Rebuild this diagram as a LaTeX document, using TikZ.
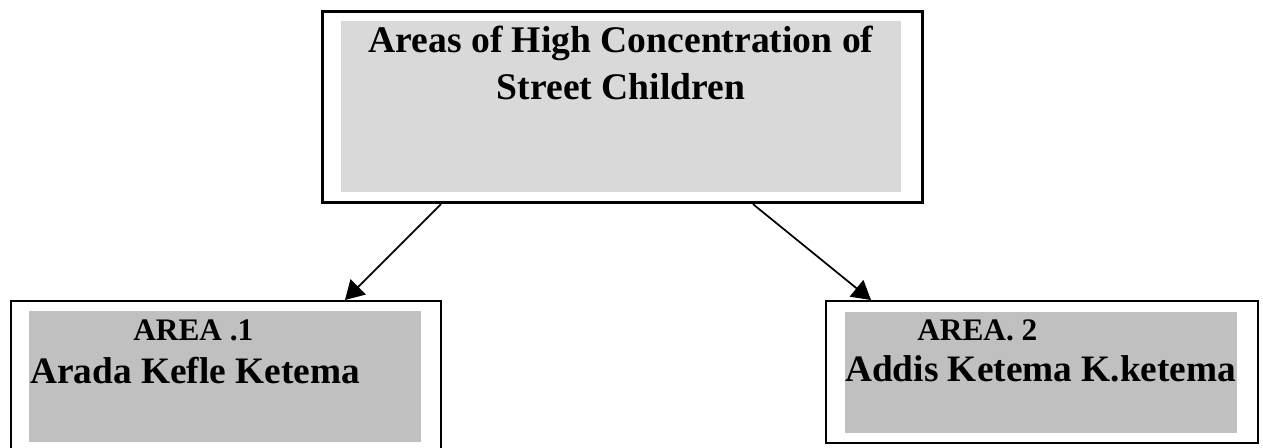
\documentclass[tikz,border=0pt]{standalone}
\usepackage{fontspec}
\setmainfont{Liberation Serif}
\usetikzlibrary{arrows.meta}
\definecolor{topgray}{HTML}{D9D9D9}
\definecolor{areagray}{HTML}{C0C0C0}

\begin{document}
\begin{tikzpicture}[x=0.75pt, y=-0.75pt,
    framebox/.style={draw, rectangle, inner sep=0pt, anchor=north west},
    shadebox/.style={fill=#1, rectangle, inner sep=0pt, anchor=north west},
    boxtext/.style={inner sep=0pt, font=\bfseries\fontsize{#1}{35.25}\selectfont},
    conn/.style={line width=1.3pt, -{Triangle[length=14pt, width=16pt]}}]
  \useasboundingbox (0, 0) rectangle (1263, 447);

  % Top box.
  \node [framebox, line width=2pt, minimum width=450pt, minimum height=143.6pt] (top) at (321, 10) {};
  \node [shadebox=topgray, minimum width=420pt, minimum height=128.25pt] (topfill) at (341, 21) {};
  \node [boxtext=28.2, align=center, anchor=base] (toptext) at (621, 99.5)
    {Areas of High Concentration of\\Street Children};

  % Area boxes.
  \node [framebox, line width=1.5pt, minimum width=322.5pt, minimum height=111pt] (area1) at (10, 300) {};
  \node [shadebox=areagray, minimum width=294pt, minimum height=98pt] (area1fill) at (29, 311) {};
  \node [boxtext=23.5, anchor=base west] (area1tag) at (133, 340.5) {AREA .1};
  \node [boxtext=28, anchor=base west] (area1name) at (30, 383) {Arada Kefle Ketema};

  \node [framebox, line width=1.5pt, minimum width=324pt, minimum height=106.3pt] (area2) at (825, 300) {};
  \node [shadebox=areagray, minimum width=294pt, minimum height=91pt] (area2fill) at (845, 311.7) {};
  \node [boxtext=23.5, anchor=base west] (area2tag) at (917, 340.5) {AREA. 2};
  \node [boxtext=28, anchor=base west] (area2name) at (845, 381.7) {Addis Ketema K.ketema};

  % Arrows.
  \draw [conn] ([xshift=90pt]top.south west) -- ([xshift=251.25pt]area1.north west);
  \draw [conn] ([xshift=324pt]top.south west) -- ([xshift=34.5pt]area2.north west);
\end{tikzpicture}
\end{document}
